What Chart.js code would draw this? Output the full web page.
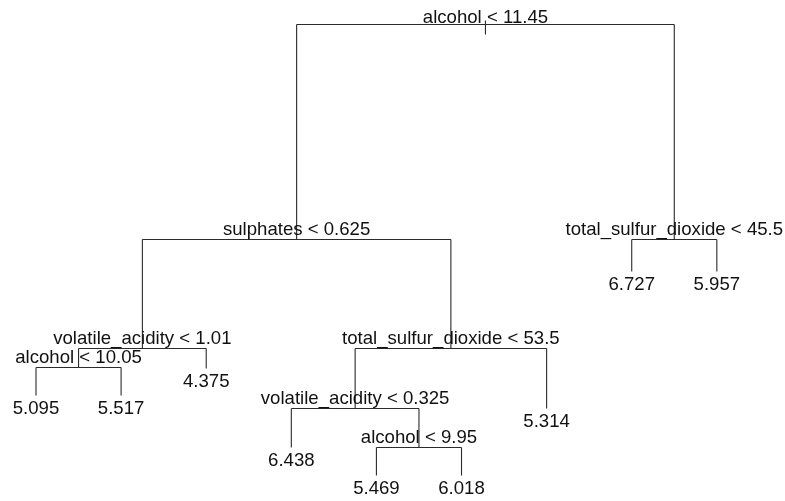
<!DOCTYPE html>
<html>
<head>
<meta charset="utf-8">
<script src="https://cdn.jsdelivr.net/npm/chart.js@4/dist/chart.umd.min.js"></script>
<style>
  body { margin: 0; background: #fff; }
  #arbol { display: block; }
</style>
</head>
<body>
<canvas id="arbol" width="785" height="501"></canvas>
<script>
// Nodos del árbol de regresión (orden preorden)
var nodeLabels = ['alcohol < 11.45', 'sulphates < 0.625', 'volatile_acidity < 1.01', 'alcohol < 10.05',
  '5.095', '5.517', '4.375', 'total_sulfur_dioxide < 53.5', 'volatile_acidity < 0.325', '6.438',
  'alcohol < 9.95', '5.469', '6.018', '5.314', 'total_sulfur_dioxide < 45.5', '6.727', '5.957'];
// Padre de cada nodo (-1 = raíz)
var nodeParent = [-1, 0, 1, 2, 3, 3, 2, 1, 7, 8, 8, 10, 10, 7, 0, 14, 14];
// Altura de cada nodo (proporcional a la devianza)
var nodeDeviance = [477, 262, 153, 134, 106, 106, 133, 153, 93, 54, 54, 26, 26, 93, 262, 230, 230];

// Posición x: hojas en orden 1..n, nodos internos en la media de sus hijos
var hijos = nodeLabels.map(function () { return []; });
nodeParent.forEach(function (p, i) { if (p >= 0) hijos[p].push(i); });
var nodeX = [];
var hoja = 0;
function posX(i) {
  if (hijos[i].length === 0) { hoja++; nodeX[i] = hoja; return hoja; }
  var a = posX(hijos[i][0]);
  var b = posX(hijos[i][1]);
  nodeX[i] = (a + b) / 2;
  return nodeX[i];
}
posX(0);

// Segmentos del dendrograma, un dataset por segmento
var segmentos = [];
hijos.forEach(function (h, i) {
  if (h.length === 0) return;
  segmentos.push([{ x: nodeX[h[0]], y: nodeDeviance[i] }, { x: nodeX[h[1]], y: nodeDeviance[i] }]);
  h.forEach(function (c) {
    segmentos.push([{ x: nodeX[c], y: nodeDeviance[i] }, { x: nodeX[c], y: nodeDeviance[c] }]);
  });
});
// pequeño trazo de la raíz
segmentos.push([{ x: nodeX[0], y: nodeDeviance[0] + 4 }, { x: nodeX[0], y: nodeDeviance[0] - 10 }]);

var datasets = segmentos.map(function (s) {
  return {
    data: s,
    showLine: true,
    borderColor: '#2b2b2b',
    borderWidth: 1.1,
    pointRadius: 0,
    pointHoverRadius: 0
  };
});

// Plugin para escribir las etiquetas de los nodos
var etiquetas = {
  id: 'etiquetas',
  afterDatasetsDraw: function (chart) {
    var c = chart.ctx, sx = chart.scales.x, sy = chart.scales.y;
    c.save();
    c.font = '18.6px "Liberation Sans", Arial, sans-serif';
    c.fillStyle = '#111';
    c.textAlign = 'center';
    c.textBaseline = 'alphabetic';
    nodeLabels.forEach(function (txt, i) {
      var px = sx.getPixelForValue(nodeX[i]);
      var py = sy.getPixelForValue(nodeDeviance[i]);
      if (hijos[i].length === 0) {
        c.fillText(txt, px, py + 18);
      } else {
        c.fillText(txt, px, py - (i === 0 ? 2 : 5));
      }
    });
    c.restore();
  }
};

var ctx = document.getElementById('arbol').getContext('2d');
var arbol = new Chart(ctx, {
  type: 'scatter',
  data: { datasets: datasets },
  options: {
    responsive: false,
    animation: false,
    layout: { padding: 0 },
    plugins: { legend: { display: false }, tooltip: { enabled: false } },
    scales: {
      x: { type: 'linear', display: false, min: 0.577, max: 9.801 },
      y: { type: 'linear', display: false, min: 0.5, max: 501.5 }
    }
  },
  plugins: [etiquetas]
});
</script>
</body>
</html>
